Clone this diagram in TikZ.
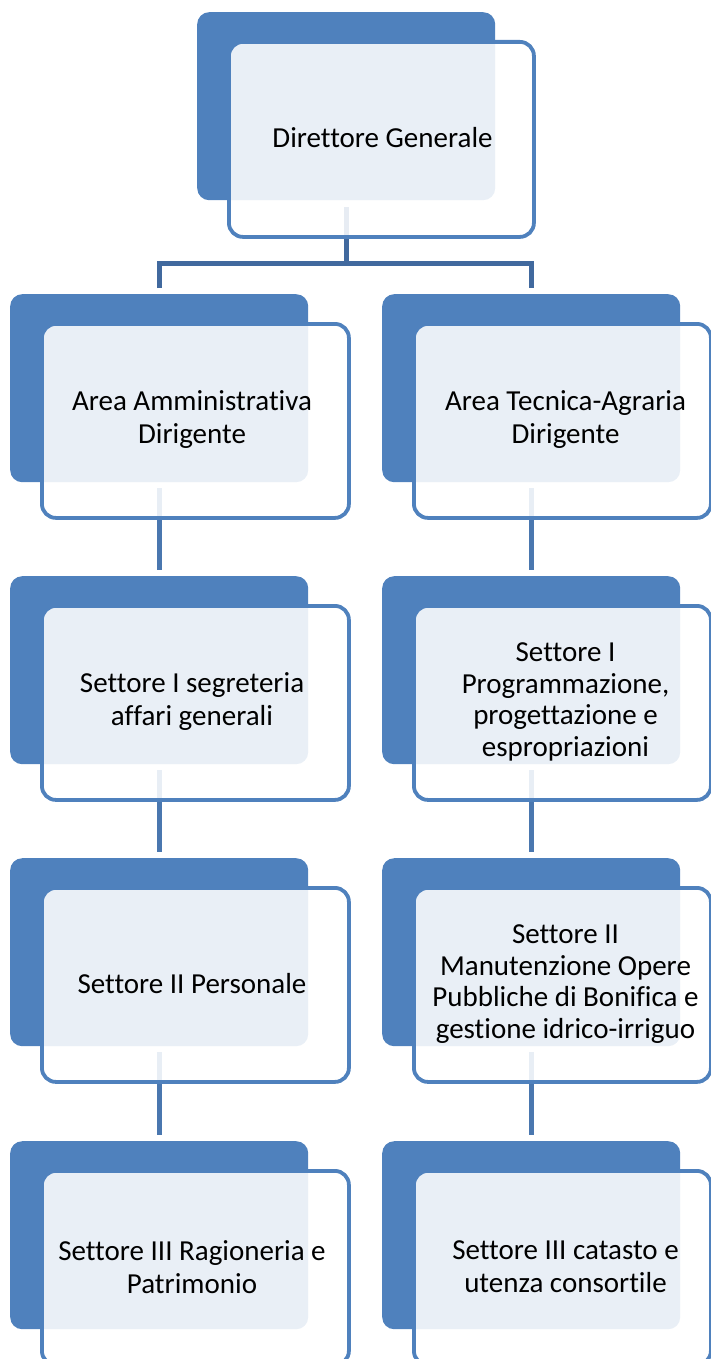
\documentclass[tikz,border=0pt]{standalone}
\usepackage{fontspec}
\setmainfont{Carlito}[Ligatures={NoCommon,NoContextual,NoRequired},RawFeature={-liga;-clig;-dlig}]
\definecolor{accent}{HTML}{4F81BD}
\definecolor{connA}{HTML}{41699E}
\definecolor{connB}{HTML}{4A77AF}
\pgfdeclarelayer{bglayer}
\pgfsetlayers{bglayer,main}
\begin{document}
\begin{tikzpicture}[x=1pt,y=-1pt,
  backbox/.style={rectangle, rounded corners=12pt, fill=accent, inner sep=0pt,
    minimum width=298pt, minimum height=188pt, anchor=north west},
  frontbox/.style={rectangle, rounded corners=14pt, draw=accent, line width=3.8pt,
    fill=white, fill opacity=0.88, inner sep=0pt, anchor=north west,
    minimum height=194pt},
  boxtext/.style={align=center, font=\fontsize{29}{33}\selectfont, text=black, inner sep=0pt},
  boxtextq/.style={align=center, font=\fontsize{29}{31.7}\selectfont, text=black, inner sep=0pt},
  conn/.style={draw=connB, line width=5pt},
  topconn/.style={draw=connA, line width=5pt},
]
\clip (0,0) rectangle (711,1359);

% top box
\node[backbox] (b0) at (197,12) {};
\node[frontbox, minimum width=305pt, minimum height=195pt] (o0) at (227,40) {};
\node[boxtext] (t0) at (382.5,138) {Direttore Generale};

% left column
\node[backbox] (bL1) at (10,294) {};
\node[frontbox, minimum width=307pt] (oL1) at (40,322) {};
\node[boxtext] (tL1) at (192,420) {Area Amministrativa\\Dirigente};

\node[backbox] (bL2) at (10,576) {};
\node[frontbox, minimum width=307pt] (oL2) at (40,604) {};
\node[boxtext] (tL2) at (192,702) {Settore I segreteria\\affari generali};

\node[backbox] (bL3) at (10,858) {};
\node[frontbox, minimum width=307pt] (oL3) at (40,886) {};
\node[boxtext] (tL3) at (192,984) {Settore II Personale};

\node[backbox] (bL4) at (10,1141) {};
\node[frontbox, minimum width=307pt] (oL4) at (40,1169) {};
\node[boxtext] (tL4) at (192,1267) {Settore III Ragioneria e\\Patrimonio};

% right column
\node[backbox] (bR1) at (382,294) {};
\node[frontbox, minimum width=297pt] (oR1) at (412,322) {};
\node[boxtext] (tR1) at (565.5,420) {Area Tecnica-Agraria\\Dirigente};

\node[backbox] (bR2) at (382,576) {};
\node[frontbox, minimum width=297pt] (oR2) at (412,604) {};
\node[boxtextq] (tR2) at (565.5,702) {Settore I\\Programmazione,\\progettazione e\\espropriazioni};

\node[backbox] (bR3) at (382,858) {};
\node[frontbox, minimum width=297pt] (oR3) at (412,886) {};
\node[boxtextq] (tR3) at (565.5,984) {Settore II\\Manutenzione Opere\\Pubbliche di Bonifica e\\gestione idrico-irriguo};

\node[backbox] (bR4) at (382,1141) {};
\node[frontbox, minimum width=297pt] (oR4) at (412,1169) {};
\node[boxtext] (tR4) at (565.5,1267) {Settore III catasto e\\utenza consortile};

% connectors
\begin{pgfonlayer}{bglayer}
\draw[topconn] ([yshift=-7pt]b0.south) -- ++(0,56.5) coordinate (hub);
\draw[topconn] ([yshift=6pt]bL1.north) -- (bL1.north |- hub) -- (bR1.north |- hub) -- ([yshift=6pt]bR1.north);
\draw[conn] ([yshift=-6pt]bL1.south) -- ([yshift=6pt]bL2.north);
\draw[conn] ([yshift=-6pt]bL2.south) -- ([yshift=6pt]bL3.north);
\draw[conn] ([yshift=-6pt]bL3.south) -- ([yshift=6pt]bL4.north);
\draw[conn] ([yshift=-6pt]bR1.south) -- ([yshift=6pt]bR2.north);
\draw[conn] ([yshift=-6pt]bR2.south) -- ([yshift=6pt]bR3.north);
\draw[conn] ([yshift=-6pt]bR3.south) -- ([yshift=6pt]bR4.north);
\end{pgfonlayer}
\end{tikzpicture}
\end{document}
